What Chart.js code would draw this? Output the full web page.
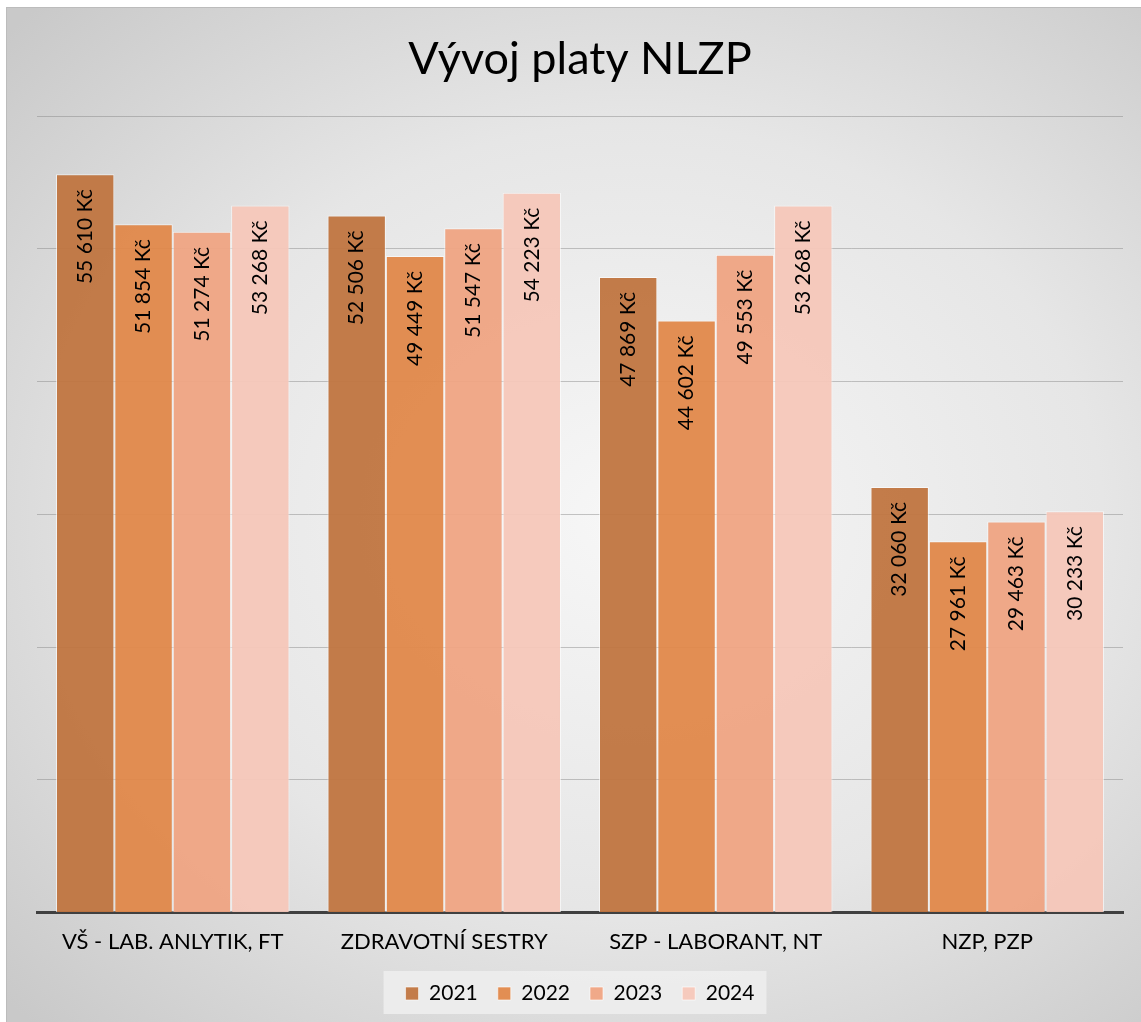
<!DOCTYPE html>
<html>
<head>
<meta charset="utf-8">
<script src="https://cdn.jsdelivr.net/npm/chart.js@4/dist/chart.umd.min.js"></script>
<style>
  html, body { margin: 0; padding: 0; background: #ffffff; }
  #frame {
    position: absolute; left: 6px; top: 7px; width: 1140px; height: 1020px;
    box-sizing: border-box; border: 1px solid #bcbcbc;
    background: radial-gradient(ellipse 75% 70% at 55% 50%, #f7f7f7 0%, #e6e6e6 55%, #c9c9c9 100%);
  }
  #chartBox { position: absolute; left: 0; top: 0; width: 1138px; height: 1018px; }
</style>
</head>
<body>
<div id="frame"><div id="chartBox"><canvas id="salaryChart"></canvas></div></div>
<script>
// data
const categories = ['VŠ - LAB. ANLYTIK, FT', 'ZDRAVOTNÍ SESTRY', 'SZP - LABORANT, NT', 'NZP, PZP'];
const years = ['2021', '2022', '2023', '2024'];
const values2021 = [55610, 52506, 47869, 32060];
const values2022 = [51854, 49449, 44602, 27961];
const values2023 = [51274, 51547, 49553, 29463];
const values2024 = [53268, 54223, 53268, 30233];
const barColors = ['rgba(192,117,64,0.95)', 'rgba(224,136,74,0.95)', 'rgba(239,164,131,0.95)', 'rgba(245,199,185,0.95)'];

const FONT = 'Lato, "Open Sans", sans-serif';

function formatKc(v) {
  return String(v).replace(/\B(?=(\d{3})+(?!\d))/g, ' ') + ' Kč';
}

// vertical labels inside the bars
const barLabels = {
  id: 'barLabels',
  afterDatasetsDraw(chart) {
    const ctx = chart.ctx;
    ctx.save();
    ctx.font = '21px ' + FONT;
    ctx.fillStyle = '#000';
    ctx.textAlign = 'right';
    ctx.textBaseline = 'middle';
    chart.data.datasets.forEach((ds, i) => {
      chart.getDatasetMeta(i).data.forEach((bar, j) => {
        ctx.save();
        ctx.translate(bar.x, bar.y + 15);
        ctx.rotate(-Math.PI / 2);
        ctx.fillText(formatKc(ds.data[j]), 0, 0);
        ctx.restore();
      });
    });
    ctx.restore();
  }
};

// light box behind legend items only
const legendBg = {
  id: 'legendBg',
  beforeDraw(chart) {
    const lg = chart.legend;
    if (!lg || !lg.legendHitBoxes || !lg.legendHitBoxes.length) return;
    const boxes = lg.legendHitBoxes;
    const l = Math.min(...boxes.map(b => b.left)) - 22;
    const r = Math.max(...boxes.map(b => b.left + b.width)) + 12;
    const t = boxes[0].top - 12;
    const ctx = chart.ctx;
    ctx.save();
    ctx.fillStyle = 'rgba(238,238,238,0.85)';
    ctx.fillRect(l, t, r - l, boxes[0].height + 22);
    ctx.restore();
  }
};

const datasetsList = [values2021, values2022, values2023, values2024].map((vals, i) => ({
  label: years[i],
  data: vals,
  backgroundColor: barColors[i],
  borderColor: 'rgba(255,255,255,0.6)',
  borderWidth: 1,
  categoryPercentage: 0.86,
  barPercentage: 1.0
}));

new Chart(document.getElementById('salaryChart'), {
  type: 'bar',
  data: { labels: categories, datasets: datasetsList },
  plugins: [legendBg, barLabels],
  options: {
    responsive: true,
    maintainAspectRatio: false,
    animation: false,
    layout: { padding: { left: 30, right: 22, top: 8, bottom: 12 } },
    plugins: {
      title: {
        display: true,
        text: 'Vývoj platy NLZP',
        color: '#000',
        font: { family: FONT, size: 45, weight: 'normal' },
        padding: { top: 16, bottom: 30 }
      },
      legend: {
        position: 'bottom',
        labels: {
          color: '#000',
          boxWidth: 13,
          boxHeight: 13,
          padding: 20,
          font: { family: FONT, size: 21 }
        }
      },
      tooltip: { enabled: false }
    },
    scales: {
      x: {
        grid: { display: false },
        border: { display: true, color: '#404040', width: 3 },
        ticks: {
          color: '#000',
          padding: 8,
          maxRotation: 0,
          font: { family: FONT, size: 22 }
        }
      },
      y: {
        min: 0,
        max: 60000,
        ticks: { display: false, stepSize: 10000 },
        border: { display: false },
        grid: { color: 'rgba(130,130,130,0.45)', lineWidth: 1, drawTicks: false }
      }
    }
  }
});
</script>
</body>
</html>
